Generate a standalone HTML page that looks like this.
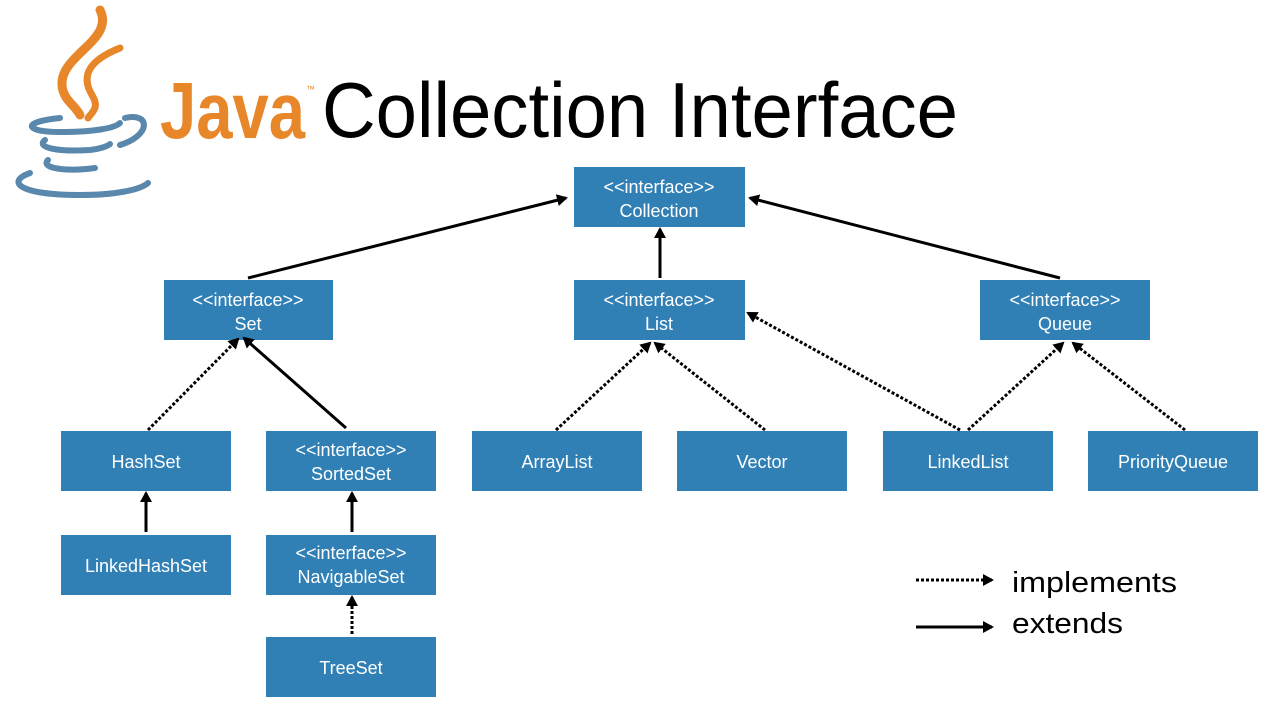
<!DOCTYPE html>
<html><head><meta charset="utf-8"><style>
html,body{margin:0;padding:0;background:#fff;}
</style></head><body>
<svg width="1280" height="720" viewBox="0 0 1280 720" xmlns="http://www.w3.org/2000/svg" font-family="Liberation Sans, sans-serif">
<defs>
<marker id="ah" markerWidth="12" markerHeight="12" refX="9" refY="6" orient="auto" markerUnits="userSpaceOnUse">
<path d="M0,0 L11,6 L0,12 z" fill="#000"/>
</marker>
</defs>
<rect width="1280" height="720" fill="#fff"/>
<g fill="none" stroke="#e8862a" stroke-linecap="round">
<path d="M100,10 C115,40 60,55 62,85 C63,100 75,105 80,115" stroke-width="9"/>
<path d="M120,48 C90,60 80,75 92,95 C100,108 92,112 88,118" stroke-width="7"/>
</g>
<g fill="none" stroke="#5a88ad" stroke-linecap="round">
<path d="M60,118 C20,122 25,132 60,132 C95,132 115,128 120,123" stroke-width="6"/>
<path d="M125,118 C150,112 152,135 120,145" stroke-width="6"/>
<path d="M45,140 C35,148 60,152 90,150 C100,149 108,146 110,144" stroke-width="6"/>
<path d="M48,160 C40,168 65,172 95,168" stroke-width="6"/>
<path d="M30,173 C5,182 20,195 80,195 C115,195 140,190 148,183" stroke-width="6"/>
</g>
<text x="160" y="138" font-size="80" font-weight="bold" fill="#e8862a" textLength="145" lengthAdjust="spacingAndGlyphs">Java</text>
<text x="306" y="92" font-size="9" fill="#e8862a">™</text>
<text x="322" y="137" font-size="78" fill="#000" textLength="636" lengthAdjust="spacingAndGlyphs">Collection Interface</text>

<g fill="#3080b6">
<rect x="574" y="167" width="171" height="60"/>
<rect x="164" y="280" width="169" height="60"/>
<rect x="574" y="280" width="171" height="60"/>
<rect x="980" y="280" width="170" height="60"/>
<rect x="61" y="431" width="170" height="60"/>
<rect x="266" y="431" width="170" height="60"/>
<rect x="472" y="431" width="170" height="60"/>
<rect x="677" y="431" width="170" height="60"/>
<rect x="883" y="431" width="170" height="60"/>
<rect x="1088" y="431" width="170" height="60"/>
<rect x="61" y="535" width="170" height="60"/>
<rect x="266" y="535" width="170" height="60"/>
<rect x="266" y="637" width="170" height="60"/>
</g>
<g fill="#fff" font-size="18" text-anchor="middle">
<text x="659" y="193">&lt;&lt;interface&gt;&gt;</text><text x="659" y="217">Collection</text>
<text x="248" y="306">&lt;&lt;interface&gt;&gt;</text><text x="248" y="330">Set</text>
<text x="659" y="306">&lt;&lt;interface&gt;&gt;</text><text x="659" y="330">List</text>
<text x="1065" y="306">&lt;&lt;interface&gt;&gt;</text><text x="1065" y="330">Queue</text>
<text x="146" y="468">HashSet</text>
<text x="351" y="456">&lt;&lt;interface&gt;&gt;</text><text x="351" y="480">SortedSet</text>
<text x="557" y="468">ArrayList</text>
<text x="762" y="468">Vector</text>
<text x="968" y="468">LinkedList</text>
<text x="1173" y="468">PriorityQueue</text>
<text x="146" y="572">LinkedHashSet</text>
<text x="351" y="559">&lt;&lt;interface&gt;&gt;</text><text x="351" y="583">NavigableSet</text>
<text x="351" y="674">TreeSet</text>
</g>
<g stroke="#000" stroke-width="3" fill="none" marker-end="url(#ah)">
<line x1="248" y1="278" x2="566" y2="198"/>
<line x1="1060" y1="278" x2="750" y2="198"/>
<line x1="660" y1="278" x2="660" y2="229"/>
<line x1="346" y1="428" x2="244" y2="338"/>
<line x1="146" y1="532" x2="146" y2="493"/>
<line x1="352" y1="532" x2="352" y2="493"/>
<line x1="916" y1="627" x2="992" y2="627"/>
</g>
<g stroke="#000" stroke-width="3" fill="none" stroke-dasharray="3,2" marker-end="url(#ah)">
<line x1="148" y1="430" x2="238" y2="339"/>
<line x1="556" y1="430" x2="650" y2="343"/>
<line x1="765" y1="430" x2="655" y2="343"/>
<line x1="960" y1="430" x2="748" y2="313"/>
<line x1="968" y1="430" x2="1063" y2="343"/>
<line x1="1185" y1="430" x2="1073" y2="343"/>
<line x1="352" y1="634" x2="352" y2="597"/>
<line x1="916" y1="580" x2="992" y2="580"/>
</g>
<text x="1012" y="592" font-size="29" fill="#000" textLength="165" lengthAdjust="spacingAndGlyphs">implements</text>
<text x="1012" y="633" font-size="29" fill="#000" textLength="111" lengthAdjust="spacingAndGlyphs">extends</text>
</svg>
</body></html>
